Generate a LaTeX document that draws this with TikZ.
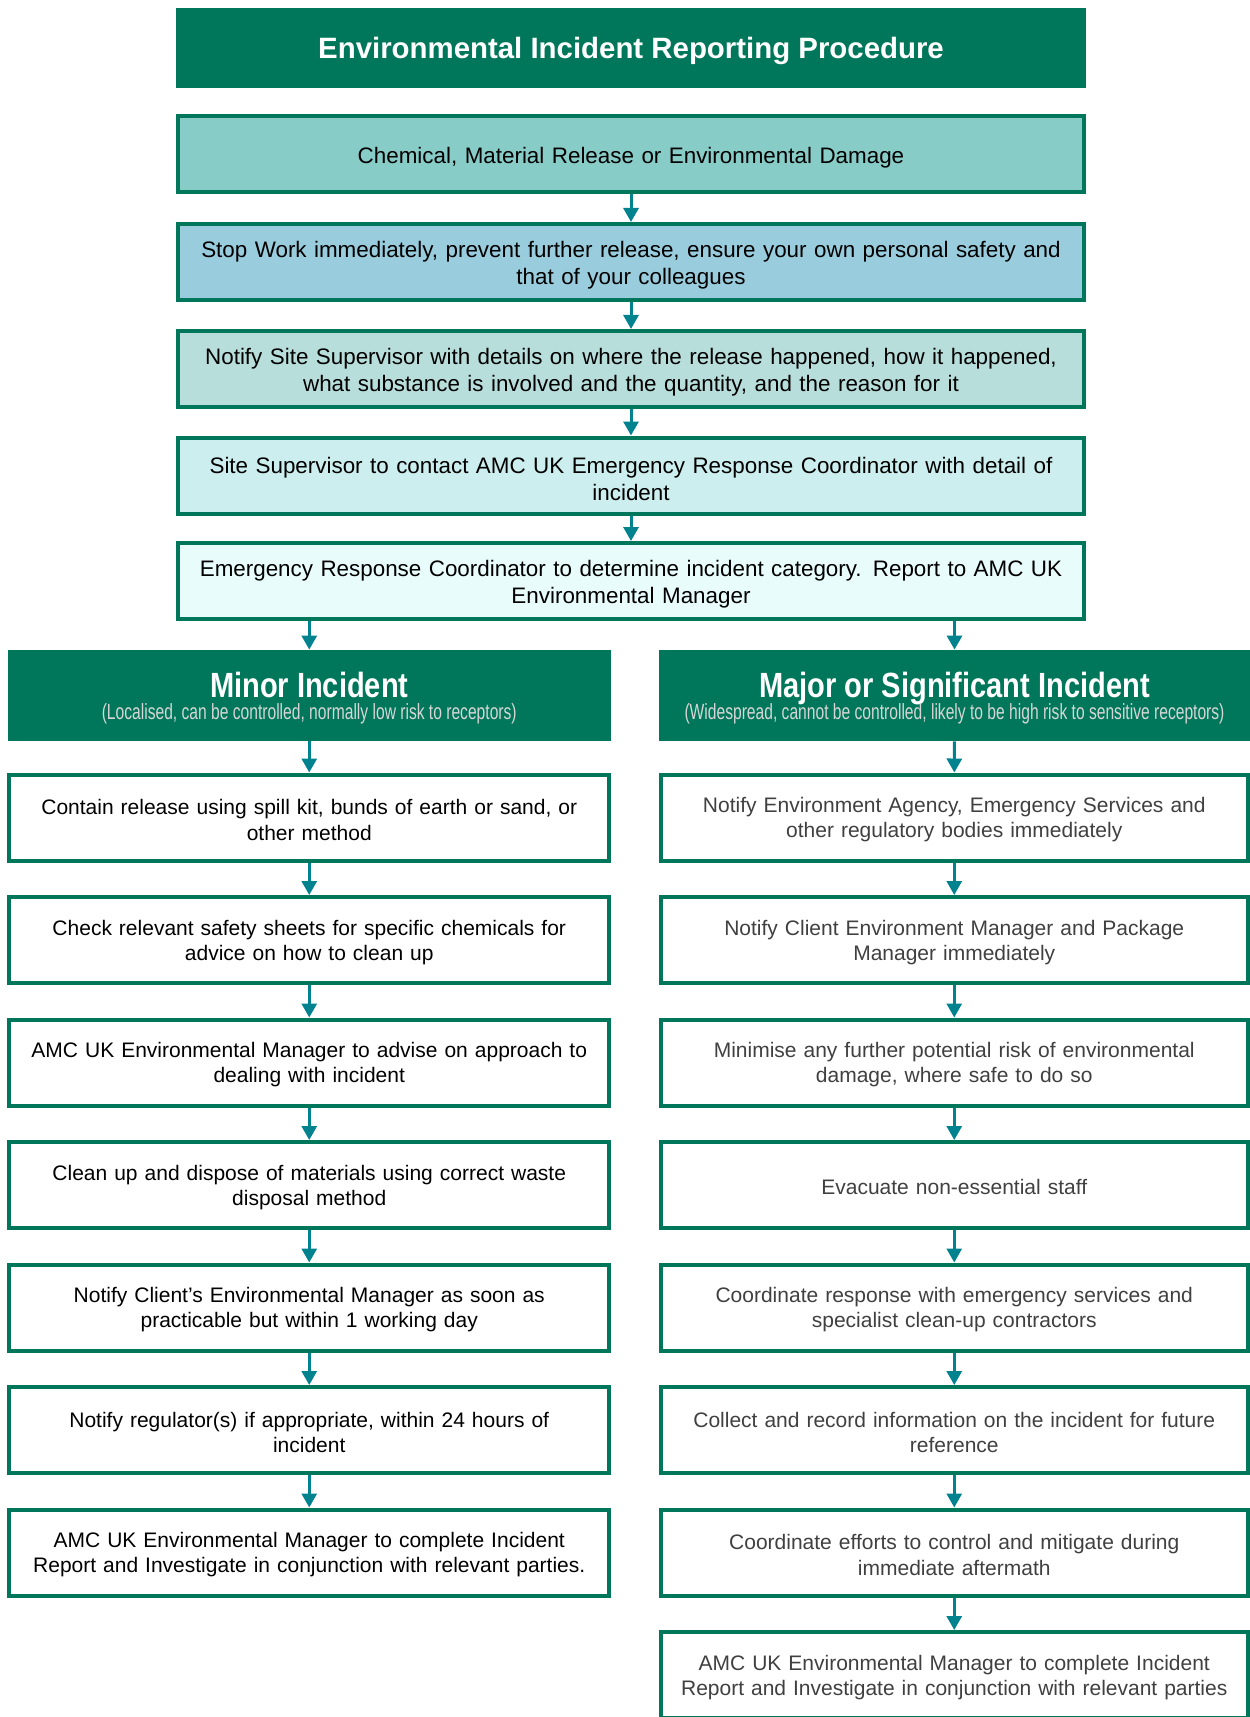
\documentclass[tikz,border=0pt]{standalone}
\usepackage{fontspec}
\setmainfont{Liberation Sans}
\newfontfamily\narrowfont[FakeStretch=0.83]{Liberation Sans}
\newfontfamily\condfont[FakeStretch=0.71]{Liberation Sans}
\usetikzlibrary{arrows.meta}

\definecolor{amcgreen}{HTML}{00775A}
\definecolor{amcteal}{HTML}{00838F}
\definecolor{fillA}{HTML}{88CCC8}
\definecolor{fillB}{HTML}{99CCDD}
\definecolor{fillC}{HTML}{B8DEDC}
\definecolor{fillD}{HTML}{CCEEEE}
\definecolor{fillE}{HTML}{E9FCFC}
\definecolor{greytext}{HTML}{404040}
\definecolor{subgrey}{HTML}{D6D6D6}

\tikzset{
  stepbox/.style={draw=amcgreen, line width=2pt, align=center, inner sep=0pt, text height=10pt,
    font=\fontsize{10.5}{12.6}\selectfont},
  topbox/.style={stepbox, minimum width=453pt, minimum height=38pt, text width=445pt,
    text height=11.6pt, font=\fontsize{11.2}{13.3}\selectfont},
  leftbox/.style={stepbox, fill=white, minimum width=300pt, minimum height=43pt, text width=292pt},
  rightbox/.style={leftbox, minimum width=293.75pt, text width=286pt, text=greytext},
  headbox/.style={fill=amcgreen, text=white, align=center, inner sep=0pt},
  flowarrow/.style={amcteal, line width=1.5pt, -{Triangle[width=7.5pt,length=7pt]}},
}

\begin{document}
\begin{tikzpicture}[x=0.5pt,y=-0.5pt]
  \useasboundingbox (0,0) rectangle (1249,1717);

  \node[headbox, minimum width=455pt, minimum height=40pt, text depth=0pt,
    font=\bfseries\fontsize{14.7}{18}\selectfont] (title) at (631,48)
    {Environmental Incident Reporting Procedure};

  \node[topbox, fill=fillA] (T1) at (631,154) {Chemical, Material Release or Environmental Damage};
  \node[topbox, fill=fillB] (T2) at (631,262) {Stop Work immediately, prevent further release, ensure your own personal safety and\\that of your colleagues};
  \node[topbox, fill=fillC] (T3) at (631,369) {Notify Site Supervisor with details on where the release happened, how it happened,\\what substance is involved and the quantity, and the reason for it};
  \node[topbox, fill=fillD] (T4) at (631,475.5) {Site Supervisor to contact AMC UK Emergency Response Coordinator with detail of\\incident};
  \node[topbox, fill=fillE] (T5) at (631,581) {Emergency Response Coordinator to determine incident category. Report to AMC UK\\Environmental Manager};

  \foreach \i [count=\j from 2] in {1,...,4}
    \draw[flowarrow] (T\i) -- (T\j);

  % category headers
  \node[headbox, minimum width=301.75pt, minimum height=45.5pt, text depth=-1.5pt,
    font=\condfont\fontsize{11}{12}\selectfont] (minor) at (309.25,695.5)
    {{\narrowfont\bfseries\fontsize{17.5}{18}\selectfont Minor Incident}\\[-0.9pt]
     {\color{subgrey}(Localised, can be controlled, normally low risk to receptors)}};
  \node[headbox, minimum width=295.5pt, minimum height=45.5pt, text depth=-1.5pt,
    font=\condfont\fontsize{11}{12}\selectfont] (major) at (954.5,695.5)
    {{\narrowfont\bfseries\fontsize{17.5}{18}\selectfont Major or Significant Incident}\\[-0.9pt]
     {\color{subgrey}(Widespread, cannot be controlled, likely to be high risk to sensitive receptors)}};

  \draw[flowarrow] (T5.south -| minor) -- (minor);
  \draw[flowarrow] (T5.south -| major) -- (major);

  \foreach \txt [count=\i] in {
      {Contain release using spill kit, bunds of earth or sand, or\\other method},
      {Check relevant safety sheets for specific chemicals for\\advice on how to clean up},
      {AMC UK Environmental Manager to advise on approach to\\dealing with incident},
      {Clean up and dispose of materials using correct waste\\disposal method},
      {Notify Client’s Environmental Manager as soon as\\practicable but within 1 working day},
      {Notify regulator(s) if appropriate, within 24 hours of\\incident},
      {AMC UK Environmental Manager to complete Incident\\Report and Investigate in conjunction with relevant parties.}}
    \node[leftbox] (L\i) at (309.25,{817.5+122.5*(\i-1)}) {\txt};

  \foreach \txt [count=\i] in {
      {Notify Environment Agency, Emergency Services and\\other regulatory bodies immediately},
      {Notify Client Environment Manager and Package\\Manager immediately},
      {Minimise any further potential risk of environmental\\damage, where safe to do so},
      {Evacuate non-essential staff},
      {Coordinate response with emergency services and\\specialist clean-up contractors},
      {Collect and record information on the incident for future\\reference},
      {Coordinate efforts to control and mitigate during\\immediate aftermath},
      {AMC UK Environmental Manager to complete Incident\\Report and Investigate in conjunction with relevant parties}}
    \node[rightbox] (R\i) at (954.25,{817.5+122.5*(\i-1)}) {\txt};

  \draw[flowarrow] (minor) -- (L1);
  \draw[flowarrow] (major) -- (R1);
  \foreach \i [count=\j from 2] in {1,...,6}
    \draw[flowarrow] (L\i) -- (L\j);
  \foreach \i [count=\j from 2] in {1,...,7}
    \draw[flowarrow] (R\i) -- (R\j);
\end{tikzpicture}
\end{document}
